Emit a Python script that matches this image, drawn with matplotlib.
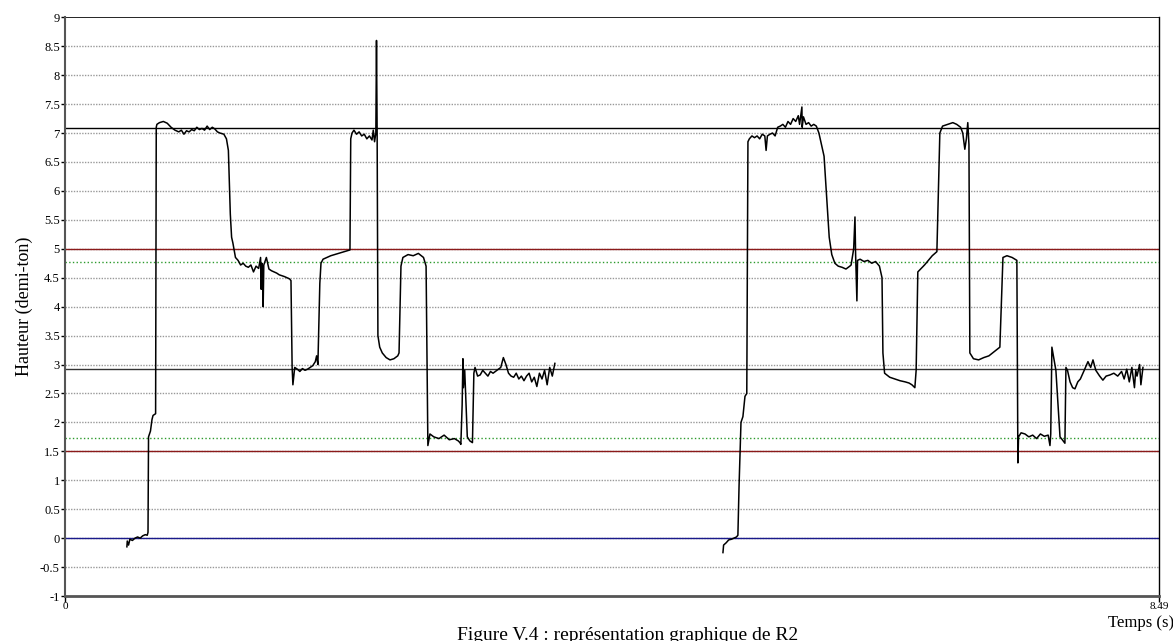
import matplotlib
matplotlib.use("Agg")
import matplotlib.pyplot as plt
import numpy as np

plt.rcParams['font.family'] = ['Liberation Serif', 'DejaVu Serif']

# first phrase (time s, height in half-tones)
t1 = [0.477, 0.48, 0.49, 0.50, 0.52, 0.54, 0.56, 0.58, 0.60, 0.62, 0.635, 0.641, 0.645, 0.66, 0.672,
      0.68, 0.70, 0.705, 0.71, 0.73, 0.76, 0.79, 0.82, 0.85, 0.88, 0.90, 0.92, 0.94, 0.96, 0.98, 1.00,
      1.02, 1.04, 1.06, 1.08, 1.10, 1.12, 1.14, 1.16, 1.18, 1.20, 1.23, 1.25, 1.265, 1.28, 1.29, 1.30,
      1.32, 1.34, 1.36, 1.38, 1.40, 1.42, 1.44, 1.46, 1.48, 1.50, 1.515, 1.52, 1.525, 1.53, 1.535, 1.54,
      1.56, 1.58, 1.60, 1.62, 1.64, 1.66, 1.70, 1.74, 1.751, 1.76, 1.766, 1.78, 1.80, 1.82, 1.84, 1.86,
      1.88, 1.90, 1.92, 1.94, 1.95, 1.96, 1.975, 1.984, 2.00, 2.03, 2.06, 2.09, 2.12, 2.15, 2.18, 2.209,
      2.215, 2.225, 2.24, 2.26, 2.28, 2.30, 2.32, 2.34, 2.36, 2.38, 2.39, 2.40, 2.41, 2.415, 2.42, 2.426,
      2.44, 2.46, 2.49, 2.52, 2.55, 2.58, 2.59, 2.605, 2.62, 2.66, 2.70, 2.74, 2.78, 2.80, 2.814, 2.83,
      2.86, 2.90, 2.94, 2.98, 3.02, 3.05, 3.063, 3.07, 3.08, 3.086, 3.09, 3.10, 3.12, 3.14, 3.16, 3.171,
      3.18, 3.20, 3.22, 3.24, 3.26, 3.28, 3.30, 3.32, 3.35, 3.38, 3.40, 3.42, 3.44, 3.46, 3.48, 3.50,
      3.52, 3.54, 3.56, 3.58, 3.60, 3.62, 3.64, 3.66, 3.68, 3.70, 3.72, 3.74, 3.76, 3.78, 3.80]
h1 = [-0.15, -0.05, -0.12, -0.02, -0.04, 0.0, 0.02, 0.0, 0.04, 0.06, 0.05, 0.10, 1.75, 1.85, 2.05,
      2.12, 2.15, 7.10, 7.15, 7.18, 7.20, 7.17, 7.10, 7.05, 7.02, 7.05, 6.98, 7.04, 7.02, 7.06, 7.04,
      7.10, 7.06, 7.08, 7.05, 7.12, 7.06, 7.10, 7.07, 7.02, 7.00, 6.98, 6.90, 6.70, 5.60, 5.20, 5.10,
      4.85, 4.80, 4.72, 4.75, 4.70, 4.68, 4.72, 4.60, 4.70, 4.66, 4.85, 4.30, 4.75, 4.68, 4.00, 4.72,
      4.85, 4.65, 4.62, 4.60, 4.58, 4.55, 4.52, 4.48, 4.45, 2.95, 2.65, 2.95, 2.92, 2.88, 2.93, 2.90,
      2.92, 2.95, 2.98, 3.05, 3.15, 3.00, 4.40, 4.75, 4.82, 4.85, 4.88, 4.90, 4.92, 4.94, 4.96, 4.98,
      6.90, 7.00, 7.05, 6.98, 7.02, 6.95, 6.98, 6.90, 6.95, 6.88, 7.05, 6.85, 7.00, 8.60, 7.00, 3.50,
      3.30, 3.20, 3.12, 3.08, 3.10, 3.15, 3.20, 4.70, 4.85, 4.90, 4.88, 4.92, 4.85, 4.70, 1.60, 1.80,
      1.75, 1.72, 1.78, 1.70, 1.72, 1.68, 1.65, 1.62, 2.30, 3.10, 2.60, 2.90, 1.75, 1.68, 1.65, 2.85,
      2.95, 2.80, 2.82, 2.90, 2.85, 2.80, 2.88, 2.85, 2.90, 2.95, 3.12, 3.00, 2.85, 2.80, 2.78, 2.85,
      2.75, 2.80, 2.72, 2.80, 2.85, 2.70, 2.78, 2.62, 2.85, 2.75, 2.90, 2.65, 2.95, 2.80, 3.02]

# second phrase
t2 = [5.105, 5.11, 5.13, 5.15, 5.17, 5.19, 5.21, 5.221, 5.23, 5.245, 5.26, 5.276, 5.29, 5.299, 5.31,
      5.33, 5.35, 5.37, 5.39, 5.41, 5.43, 5.44, 5.45, 5.47, 5.49, 5.51, 5.53, 5.55, 5.57, 5.59, 5.61,
      5.63, 5.65, 5.67, 5.69, 5.70, 5.718, 5.72, 5.73, 5.75, 5.77, 5.79, 5.81, 5.83, 5.85, 5.87, 5.89,
      5.91, 5.93, 5.95, 5.974, 6.00, 6.03, 6.06, 6.09, 6.10, 6.12, 6.13, 6.135, 6.145, 6.15, 6.17, 6.20,
      6.23, 6.26, 6.29, 6.32, 6.34, 6.347, 6.36, 6.40, 6.44, 6.48, 6.52, 6.55, 6.572, 6.595, 6.605, 6.618,
      6.64, 6.67, 6.70, 6.73, 6.766, 6.789, 6.81, 6.85, 6.89, 6.92, 6.95, 6.967, 6.983, 6.995, 7.006,
      7.015, 7.022, 7.05, 7.09, 7.13, 7.17, 7.21, 7.255, 7.279, 7.31, 7.35, 7.387, 7.395, 7.40, 7.42,
      7.45, 7.48, 7.51, 7.54, 7.57, 7.60, 7.63, 7.644, 7.65, 7.659, 7.69, 7.722, 7.74, 7.76, 7.768, 7.78,
      7.80, 7.82, 7.838, 7.86, 7.88, 7.91, 7.939, 7.96, 7.978, 8.00, 8.03, 8.055, 8.08, 8.11, 8.14, 8.17,
      8.20, 8.22, 8.24, 8.26, 8.28, 8.30, 8.31, 8.32, 8.34, 8.35, 8.366]
h2 = [-0.25, -0.12, -0.08, -0.03, -0.02, 0.0, 0.02, 0.05, 0.90, 2.00, 2.10, 2.45, 2.50, 6.85, 6.90,
      6.95, 6.92, 6.95, 6.90, 6.98, 6.95, 6.70, 6.95, 6.98, 7.00, 6.95, 7.10, 7.12, 7.15, 7.10, 7.20,
      7.15, 7.25, 7.20, 7.30, 7.15, 7.45, 7.10, 7.28, 7.15, 7.18, 7.12, 7.15, 7.12, 7.00, 6.80, 6.60,
      5.90, 5.20, 4.90, 4.75, 4.70, 4.68, 4.65, 4.70, 4.72, 5.00, 5.55, 4.90, 4.10, 4.80, 4.82, 4.78,
      4.80, 4.75, 4.78, 4.70, 4.50, 3.20, 2.85, 2.78, 2.75, 2.72, 2.70, 2.68, 2.65, 2.60, 2.90, 4.60,
      4.65, 4.72, 4.80, 4.88, 4.95, 7.00, 7.12, 7.15, 7.18, 7.15, 7.10, 7.00, 6.72, 6.90, 7.18,
      6.80, 3.20, 3.10, 3.08, 3.12, 3.15, 3.22, 3.30, 4.85, 4.88, 4.85, 4.80, 1.30, 1.75, 1.82,
      1.80, 1.75, 1.78, 1.72, 1.80, 1.76, 1.78, 1.60, 1.80, 3.30, 2.90, 1.75, 1.70, 1.64, 2.95, 2.90,
      2.70, 2.60, 2.58, 2.70, 2.75, 2.90, 3.05, 2.95, 3.08, 2.90, 2.80, 2.73, 2.80, 2.82, 2.85, 2.80,
      2.88, 2.75, 2.92, 2.70, 2.95, 2.60, 2.90, 2.80, 3.00, 2.65, 2.95]

# reference levels
ref_levels = [7.08, 5.0, 4.78, 2.93, 1.73, 1.5, 0.0]
ref_colors = ['black', '#8b1a1a', '#2e9b2e', '#333333', '#2e9b2e', '#8b1a1a', '#1a1a8b']
ref_styles = ['-', '-', ':', '-', ':', '-', '-']

t_max = 8.49
y_ticks = np.arange(-1, 9.01, 0.5)
y_labels = ['-1', '-0.5', '0', '0.5', '1', '1.5', '2', '2.5', '3', '3.5', '4', '4.5',
            '5', '5.5', '6', '6.5', '7', '7.5', '8', '8.5', '9']

fig = plt.figure(figsize=(11.73, 6.41), dpi=100)
ax = fig.add_axes([0.0558, 0.0702, 0.9322, 0.9028])

for v in y_ticks[1:-1]:
    ax.axhline(v, color='#999999', lw=1.0, ls=(0, (1, 1)), zorder=1)
ax.axhline(9, color='black', lw=1.2, zorder=2)

for lv, c, s in zip(ref_levels, ref_colors, ref_styles):
    ax.axhline(lv, color=c, lw=1.0, ls=s, zorder=2)

ax.plot(t1, h1, color='black', lw=1.1, zorder=3)
ax.plot(t2, h2, color='black', lw=1.1, zorder=3)

ax.set_xlim(0, t_max)
ax.set_ylim(-1, 9)
ax.set_yticks(y_ticks)
ax.set_yticklabels(y_labels)
ax.set_xticks([0, t_max])
ax.set_xticklabels(['0', '8.49'])
ax.tick_params(axis='y', labelsize=9, length=3, width=1, pad=1)
ax.tick_params(axis='x', labelsize=8, length=4, width=1, pad=0)

ax.spines['top'].set_visible(False)
ax.spines['left'].set_color('#555555')
ax.spines['left'].set_linewidth(1.5)
ax.spines['bottom'].set_color('#555555')
ax.spines['bottom'].set_linewidth(2.0)
ax.spines['right'].set_color('black')
ax.spines['right'].set_linewidth(1.0)

ax.set_ylabel('Hauteur (demi-ton)', fontsize=13, labelpad=5)

fig.text(0.973, 0.041, 'Temps (s)', ha='center', va='top', fontsize=12)
fig.text(0.535, 0.022, 'Figure V.4 : représentation graphique de R2', ha='center', va='top', fontsize=14)

fig.savefig('out.png', dpi=100)
